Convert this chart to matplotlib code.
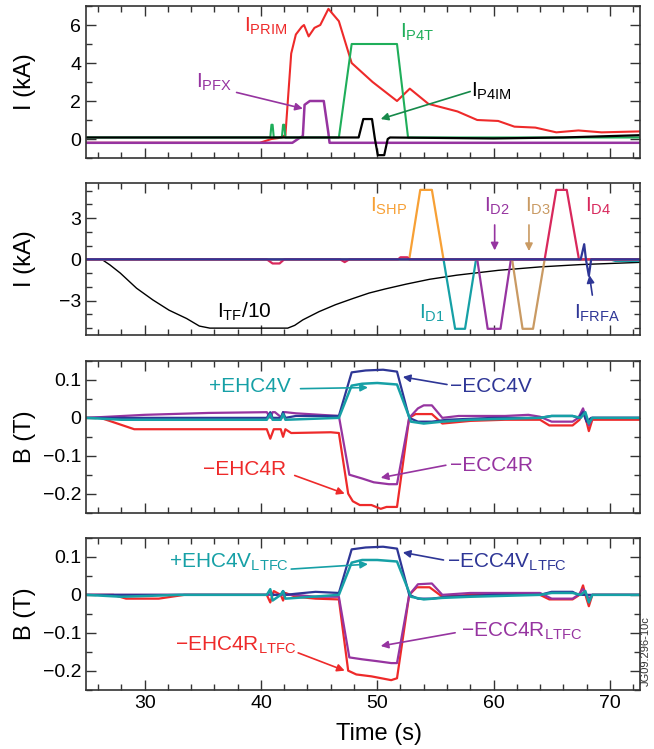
import numpy as np
import matplotlib
matplotlib.use("Agg")
import matplotlib.pyplot as plt
from matplotlib.ticker import MultipleLocator, FuncFormatter

plt.rcParams['font.family'] = ['Liberation Sans', 'DejaVu Sans']
plt.rcParams['mathtext.default'] = 'regular'

# ---- panel 1: coil currents (kA) ----
t_prim = [25, 39.9, 40.9, 41.5, 42.1, 42.6, 43.0, 43.5, 43.7, 44.1, 44.6, 45.1, 45.8, 46.7, 47.8,
          49.6, 51.7, 52.8, 54.4, 56.9, 58.6, 60.4, 61.8, 63.6, 65.4, 67.3, 69.3, 72.6]
i_prim = [-0.2, -0.2, 0.0, 0.05, 0.2, 4.5, 5.5, 5.9, 6.0, 5.4, 5.85, 6.0, 6.85, 6.2, 4.0,
          3.0, 2.0, 2.65, 1.85, 1.45, 1.0, 0.95, 0.65, 0.6, 0.35, 0.45, 0.35, 0.4]

t_p4t = [25, 40.8, 40.9, 41.0, 41.1, 41.8, 41.9, 42.0, 42.1, 46.7, 47.8, 51.7, 52.65, 72.6]
i_p4t = [0.08, 0.08, 0.75, 0.75, 0.08, 0.08, 0.75, 0.75, 0.08, 0.08, 5.0, 5.0, 0.08, 0.08]

t_pfx = [25, 42.7, 43.3, 43.6, 43.75, 44.2, 45.4, 45.8, 45.9, 72.6]
i_pfx = [-0.2, -0.2, 0.05, 0.15, 1.8, 2.0, 2.0, 0.3, -0.2, -0.2]

t_p4im = [25, 48.4, 48.8, 49.55, 49.8, 50.05, 50.6, 50.9, 51.1, 60, 66, 72.6]
i_p4im = [0.08, 0.08, 1.05, 1.05, 0.0, -0.85, -0.85, 0.0, 0.08, 0.03, 0.08, 0.2]

# ---- panel 2: divertor / shaping currents (kA) ----
t_tf = [25, 26.3, 27.0, 27.9, 29.3, 30.7, 32.1, 33.6, 34.7, 35.6, 42.3, 42.9, 43.6, 45.0,
        46.4, 47.9, 49.3, 50.7, 52.5, 54.5, 56.85, 60.4, 64.0, 67.5, 72.6]
i_tf = [0, 0, -0.4, -1.0, -2.1, -2.95, -3.7, -4.3, -4.85, -5.0, -5.0, -4.8, -4.4, -3.8,
        -3.3, -2.85, -2.45, -2.15, -1.8, -1.45, -1.15, -0.8, -0.55, -0.38, -0.22]

t_shp = [25, 52.75, 53.7, 54.7, 55.7, 72.6]
i_shp = [0, 0, 5.05, 5.05, 0, 0]

t_d1 = [25, 55.7, 56.7, 57.55, 58.5, 70.0, 70.5, 72.6]
i_d1 = [0, 0, -5.05, -5.05, 0, 0, -0.12, -0.12]

t_d2 = [25, 58.6, 59.5, 60.6, 61.5, 72.6]
i_d2 = [0, 0, -5.05, -5.05, 0, 0]

t_d3 = [25, 61.6, 62.5, 63.4, 64.4, 72.6]
i_d3 = [0, 0, -5.05, -5.05, 0, 0]

t_d4 = [25, 40.5, 41.0, 41.6, 42.0, 46.8, 47.2, 47.6, 51.8, 52.0, 52.6, 52.75,
        64.4, 65.4, 66.3, 67.35, 72.6]
i_d4 = [0, 0, -0.3, -0.3, 0, 0, -0.2, 0, 0, 0.15, 0.15, 0,
        0, 5.05, 5.05, 0, 0]

t_frfa = [25, 67.5, 67.8, 67.95, 68.2, 68.4, 72.6]
i_frfa = [0, 0, 1.1, 0, -1.2, 0, 0]

# ---- panel 3: measured fields (T) ----
t_ehc4r = [25, 26.2, 29.1, 40.5, 40.8, 41.1, 41.7, 41.9, 42.1, 42.6, 46.0, 46.7, 47.5, 47.9,
           48.5, 49.5, 50.3, 50.8, 51.7, 52.75, 53.3, 54.7, 55.6, 58, 61, 64.0, 64.8, 66.8,
           67.4, 67.7, 68.0, 68.2, 68.5, 72.6]
b_ehc4r = [0, 0, -0.03, -0.03, -0.055, -0.03, -0.03, -0.05, -0.03, -0.04, -0.038, -0.04, -0.20,
           -0.22, -0.23, -0.23, -0.24, -0.235, -0.235, 0.0, 0.01, 0.01, -0.015, -0.008, -0.005,
           -0.005, -0.02, -0.02, -0.005, 0.02, -0.01, -0.035, -0.005, -0.005]

t_ecc4r = [25, 30, 35.5, 40.5, 40.8, 41.0, 41.2, 41.8, 41.9, 42.1, 43.0, 46.7, 47.6, 48.7,
           49.7, 51.0, 51.7, 52.75, 53.5, 54.0, 54.7, 55.6, 57, 59, 61, 63, 64.0, 65.0, 66.8,
           67.3, 67.7, 68.0, 68.2, 68.5, 72.6]
b_ecc4r = [0, 0.008, 0.013, 0.015, 0.0, 0.015, 0.015, 0.0, 0.015, 0.015, 0.012, 0.005, -0.15,
           -0.16, -0.17, -0.175, -0.175, 0.0, 0.025, 0.033, 0.033, 0.0, 0.005, 0.005, 0.005,
           0.008, 0.003, -0.01, -0.01, 0.0, 0.025, -0.005, -0.02, 0.0, 0.0]

t_ecc4v = [25, 40.5, 40.8, 41.0, 41.7, 41.9, 42.1, 43.0, 46.7, 47.8, 49.0, 50.5, 51.7,
           52.75, 53.5, 54.7, 56.0, 60, 64.0, 65.0, 66.8, 67.3, 67.7, 68.0, 68.4, 72.6]
b_ecc4v = [0, 0.0, 0.015, 0.0, 0.0, 0.015, 0.0, 0.005, 0.005, 0.12, 0.125, 0.127, 0.122,
           0.0, -0.01, -0.01, -0.005, 0.0, 0.0, 0.005, 0.005, 0.0, 0.015, -0.01, 0.0, 0.0]

t_ehc4v = [25, 28, 40.5, 40.8, 41.0, 41.7, 41.9, 42.1, 46.7, 47.8, 48.7, 50.0, 51.7, 52.9,
           54.0, 55.6, 58, 64.0, 65.0, 66.8, 67.5, 67.9, 68.2, 68.5, 72.6]
b_ehc4v = [0, -0.005, -0.005, 0.01, -0.005, -0.005, 0.01, -0.005, 0.0, 0.085, 0.09, 0.092,
           0.088, -0.01, -0.015, -0.01, -0.005, 0.0, 0.005, 0.005, 0.0, 0.015, -0.015, 0.0, 0.0]

# ---- panel 4: fields corrected for TF coupling (T) ----
t_ehc4r_l = [25, 27.3, 28.4, 31.2, 33.4, 40.5, 40.8, 41.1, 41.7, 41.9, 42.1, 43.0, 44.7, 46.7,
             47.5, 48.2, 49.5, 51.2, 51.7, 52.75, 53.4, 54.5, 55.6, 58, 64.0, 64.8, 66.8,
             67.4, 67.7, 68.0, 68.2, 68.5, 72.6]
b_ehc4r_l = [0, 0, -0.01, -0.01, 0, 0, -0.02, 0.01, 0, -0.015, 0.005, -0.005, -0.01, -0.012,
             -0.2, -0.21, -0.215, -0.225, -0.22, 0.0, 0.02, 0.02, -0.005, 0.0, 0.0, -0.012,
             -0.012, 0.0, 0.025, -0.01, -0.03, 0.0, 0.0]

t_ecc4r_l = [25, 43.0, 44.7, 46.7, 47.6, 48.7, 50.0, 51.2, 51.7, 52.75, 53.5, 54.7, 55.6, 58,
             64.0, 65.0, 66.8, 67.3, 67.7, 68.2, 68.5, 72.6]
b_ecc4r_l = [0, 0, -0.005, -0.005, -0.165, -0.17, -0.175, -0.18, -0.18, 0.0, 0.028, 0.03, 0.0,
             0.005, 0.005, -0.01, -0.01, 0.0, 0.015, -0.01, 0.0, 0.0]

t_ecc4v_l = [25, 40.5, 40.8, 41.0, 41.7, 41.9, 42.1, 43.0, 44.7, 46.7, 47.8, 49.0, 50.5, 51.7,
             52.75, 53.5, 54.7, 56, 60, 64.0, 65.0, 66.8, 67.3, 72.6]
b_ecc4v_l = [0, 0, 0.01, 0.0, 0.0, 0.01, 0.0, 0.003, 0.008, 0.005, 0.12, 0.125, 0.127, 0.122,
             0.0, -0.01, -0.01, -0.005, 0.0, 0.0, 0.008, 0.008, 0.0, 0.0]

t_ehc4v_l = [25, 28, 33, 40.5, 40.8, 41.0, 41.7, 41.9, 42.1, 46.7, 47.8, 48.7, 50.0, 51.7,
             52.9, 54.0, 55.6, 58, 64.0, 65.0, 66.8, 67.5, 67.9, 68.2, 68.5, 72.6]
b_ehc4v_l = [0, -0.005, 0, 0, 0.015, -0.015, 0, 0.01, -0.01, 0.0, 0.085, 0.092, 0.092, 0.088,
             -0.005, -0.012, -0.008, -0.005, 0.0, 0.005, 0.005, 0.0, 0.01, -0.02, 0.0, 0.0]

RED = '#ee2a2a'
GREEN = '#1fae5a'
DKGREEN = '#16894a'
PURPLE = '#9634a0'
ORANGE = '#f7a035'
TEAL = '#16a0a6'
TAN = '#c99a63'
CRIMSON = '#d8285c'
BLUE = '#2e3696'

FS = 14      # tick labels
FA = 15      # annotations
FL = 17      # axis labels

fig = plt.figure(figsize=(6.54, 7.49), dpi=100)
L, W, H = 86 / 654, 554 / 654, 152 / 749
tops = [6, 183, 361, 538]
axes = [fig.add_axes([L, 1 - (tp + 152) / 749, W, H]) for tp in tops]


def minus_fmt(v, pos):
    s = '%g' % round(v, 6)
    return s.replace('-', '\u2212')


for ax in axes:
    ax.set_xlim(24.95, 72.6)
    ax.xaxis.set_major_locator(MultipleLocator(10))
    ax.xaxis.set_minor_locator(MultipleLocator(2))
    ax.tick_params(which='both', direction='in', top=True, right=True, labelsize=FS,
                   color='#333333', width=1)
    ax.tick_params(which='major', length=7)
    ax.tick_params(which='minor', length=4)
    ax.yaxis.set_major_formatter(FuncFormatter(minus_fmt))
    for sp in ax.spines.values():
        sp.set_linewidth(1.2)
        sp.set_color('#333333')
    if ax is not axes[-1]:
        ax.tick_params(labelbottom=False)


def arrow(ax, start, end, color):
    ax.annotate('', xy=end, xytext=start,
                arrowprops=dict(arrowstyle='-|>', color=color, lw=1.2,
                                mutation_scale=11, shrinkA=0, shrinkB=0))


# panel 1
ax = axes[0]
ax.plot(t_prim, i_prim, color=RED, lw=1.5)
ax.plot(t_pfx, i_pfx, color=PURPLE, lw=1.8)
ax.plot(t_p4t, i_p4t, color=GREEN, lw=1.5)
ax.plot(t_p4im, i_p4im, color='black', lw=1.6)
ax.set_ylim(-1.0, 7.0)
ax.yaxis.set_major_locator(MultipleLocator(2))
ax.yaxis.set_minor_locator(MultipleLocator(1))
ax.set_ylabel('I (kA)', fontsize=FL)
ax.text(38.5, 5.95, '$I_{PRIM}$', color=RED, fontsize=FA, va='center')
ax.text(52.0, 5.6, '$I_{P4T}$', color=GREEN, fontsize=FA, va='center')
ax.text(34.4, 3.0, '$I_{PFX}$', color=PURPLE, fontsize=FA, va='center')
ax.text(58.1, 2.5, '$I_{P4IM}$', color='black', fontsize=FA, va='center')
arrow(ax, (37.9, 2.45), (43.6, 1.6), PURPLE)
arrow(ax, (58.0, 2.5), (50.3, 1.05), DKGREEN)

# panel 2
ax = axes[1]
ax.plot(t_tf, i_tf, color='black', lw=1.0)
ax.plot(t_shp, i_shp, color=ORANGE, lw=1.6)
ax.plot(t_d1, i_d1, color=TEAL, lw=1.6)
ax.plot(t_d2, i_d2, color=PURPLE, lw=1.6)
ax.plot(t_d3, i_d3, color=TAN, lw=1.6)
ax.plot(t_d4, i_d4, color=CRIMSON, lw=1.6)
ax.plot(t_frfa, i_frfa, color=BLUE, lw=1.6)
ax.set_ylim(-5.5, 5.55)
ax.yaxis.set_major_locator(MultipleLocator(3))
ax.yaxis.set_minor_locator(MultipleLocator(1))
ax.set_ylabel('I (kA)', fontsize=FL)
ax.text(49.4, 3.85, '$I_{SHP}$', color=ORANGE, fontsize=FA, va='center')
ax.text(59.2, 3.85, '$I_{D2}$', color=PURPLE, fontsize=FA, va='center')
ax.text(62.7, 3.85, '$I_{D3}$', color=TAN, fontsize=FA, va='center')
ax.text(67.9, 3.85, '$I_{D4}$', color=CRIMSON, fontsize=FA, va='center')
ax.text(53.6, -3.95, '$I_{D1}$', color=TEAL, fontsize=FA, va='center')
ax.text(36.2, -3.85, '$I_{TF}$/10', color='black', fontsize=FA, va='center')
ax.text(66.9, -3.9, '$I_{FRFA}$', color=BLUE, fontsize=FA, va='center')
arrow(ax, (60.1, 2.5), (60.1, 0.65), PURPLE)
arrow(ax, (63.05, 2.5), (63.05, 0.6), TAN)
arrow(ax, (68.5, -2.6), (68.25, -1.15), BLUE)

# panel 3
ax = axes[2]
ax.plot(t_ehc4r, b_ehc4r, color=RED, lw=1.6)
ax.plot(t_ecc4r, b_ecc4r, color=PURPLE, lw=1.6)
ax.plot(t_ecc4v, b_ecc4v, color=BLUE, lw=1.6)
ax.plot(t_ehc4v, b_ehc4v, color=TEAL, lw=1.8)
ax.set_ylim(-0.251, 0.15)
ax.yaxis.set_major_locator(MultipleLocator(0.1))
ax.yaxis.set_minor_locator(MultipleLocator(0.05))
ax.set_ylabel('B (T)', fontsize=FL)
ax.text(35.5, 0.082, '+EHC4V', color=TEAL, fontsize=FA, va='center')
ax.text(56.3, 0.082, '\u2212ECC4V', color=BLUE, fontsize=FA, va='center')
ax.text(56.3, -0.125, '\u2212ECC4R', color=PURPLE, fontsize=FA, va='center')
ax.text(35.0, -0.137, '\u2212EHC4R', color=RED, fontsize=FA, va='center')
arrow(ax, (43.4, 0.077), (49.2, 0.08), TEAL)
arrow(ax, (56.0, 0.088), (52.2, 0.108), BLUE)
arrow(ax, (55.9, -0.125), (50.3, -0.158), PURPLE)
arrow(ax, (42.9, -0.152), (47.2, -0.2), RED)

# panel 4
ax = axes[3]
ax.plot(t_ehc4r_l, b_ehc4r_l, color=RED, lw=1.6)
ax.plot(t_ecc4r_l, b_ecc4r_l, color=PURPLE, lw=1.6)
ax.plot(t_ecc4v_l, b_ecc4v_l, color=BLUE, lw=1.6)
ax.plot(t_ehc4v_l, b_ehc4v_l, color=TEAL, lw=1.8)
ax.set_ylim(-0.251, 0.15)
ax.yaxis.set_major_locator(MultipleLocator(0.1))
ax.yaxis.set_minor_locator(MultipleLocator(0.05))
ax.set_ylabel('B (T)', fontsize=FL)
ax.set_xlabel('Time (s)', fontsize=FL)
ax.xaxis.set_label_coords(0.529, -0.22)
ax.text(32.1, 0.085, '+EHC4V$_{LTFC}$', color=TEAL, fontsize=FA, va='center')
ax.text(56.0, 0.085, '\u2212ECC4V$_{LTFC}$', color=BLUE, fontsize=FA, va='center')
ax.text(57.2, -0.095, '\u2212ECC4R$_{LTFC}$', color=PURPLE, fontsize=FA, va='center')
ax.text(32.6, -0.132, '\u2212EHC4R$_{LTFC}$', color=RED, fontsize=FA, va='center')
arrow(ax, (42.6, 0.068), (49.2, 0.081), TEAL)
arrow(ax, (55.7, 0.092), (52.2, 0.112), BLUE)
arrow(ax, (56.7, -0.1), (50.3, -0.135), PURPLE)
arrow(ax, (43.2, -0.153), (47.2, -0.2), RED)

for ax in axes:
    ax.yaxis.set_label_coords(-0.09, 0.5)

fig.text(0.988, 0.131, 'JG09.296-10c', rotation=90, fontsize=8, ha='center', va='center',
         color='#333333')

fig.savefig('out.png', dpi=100)
